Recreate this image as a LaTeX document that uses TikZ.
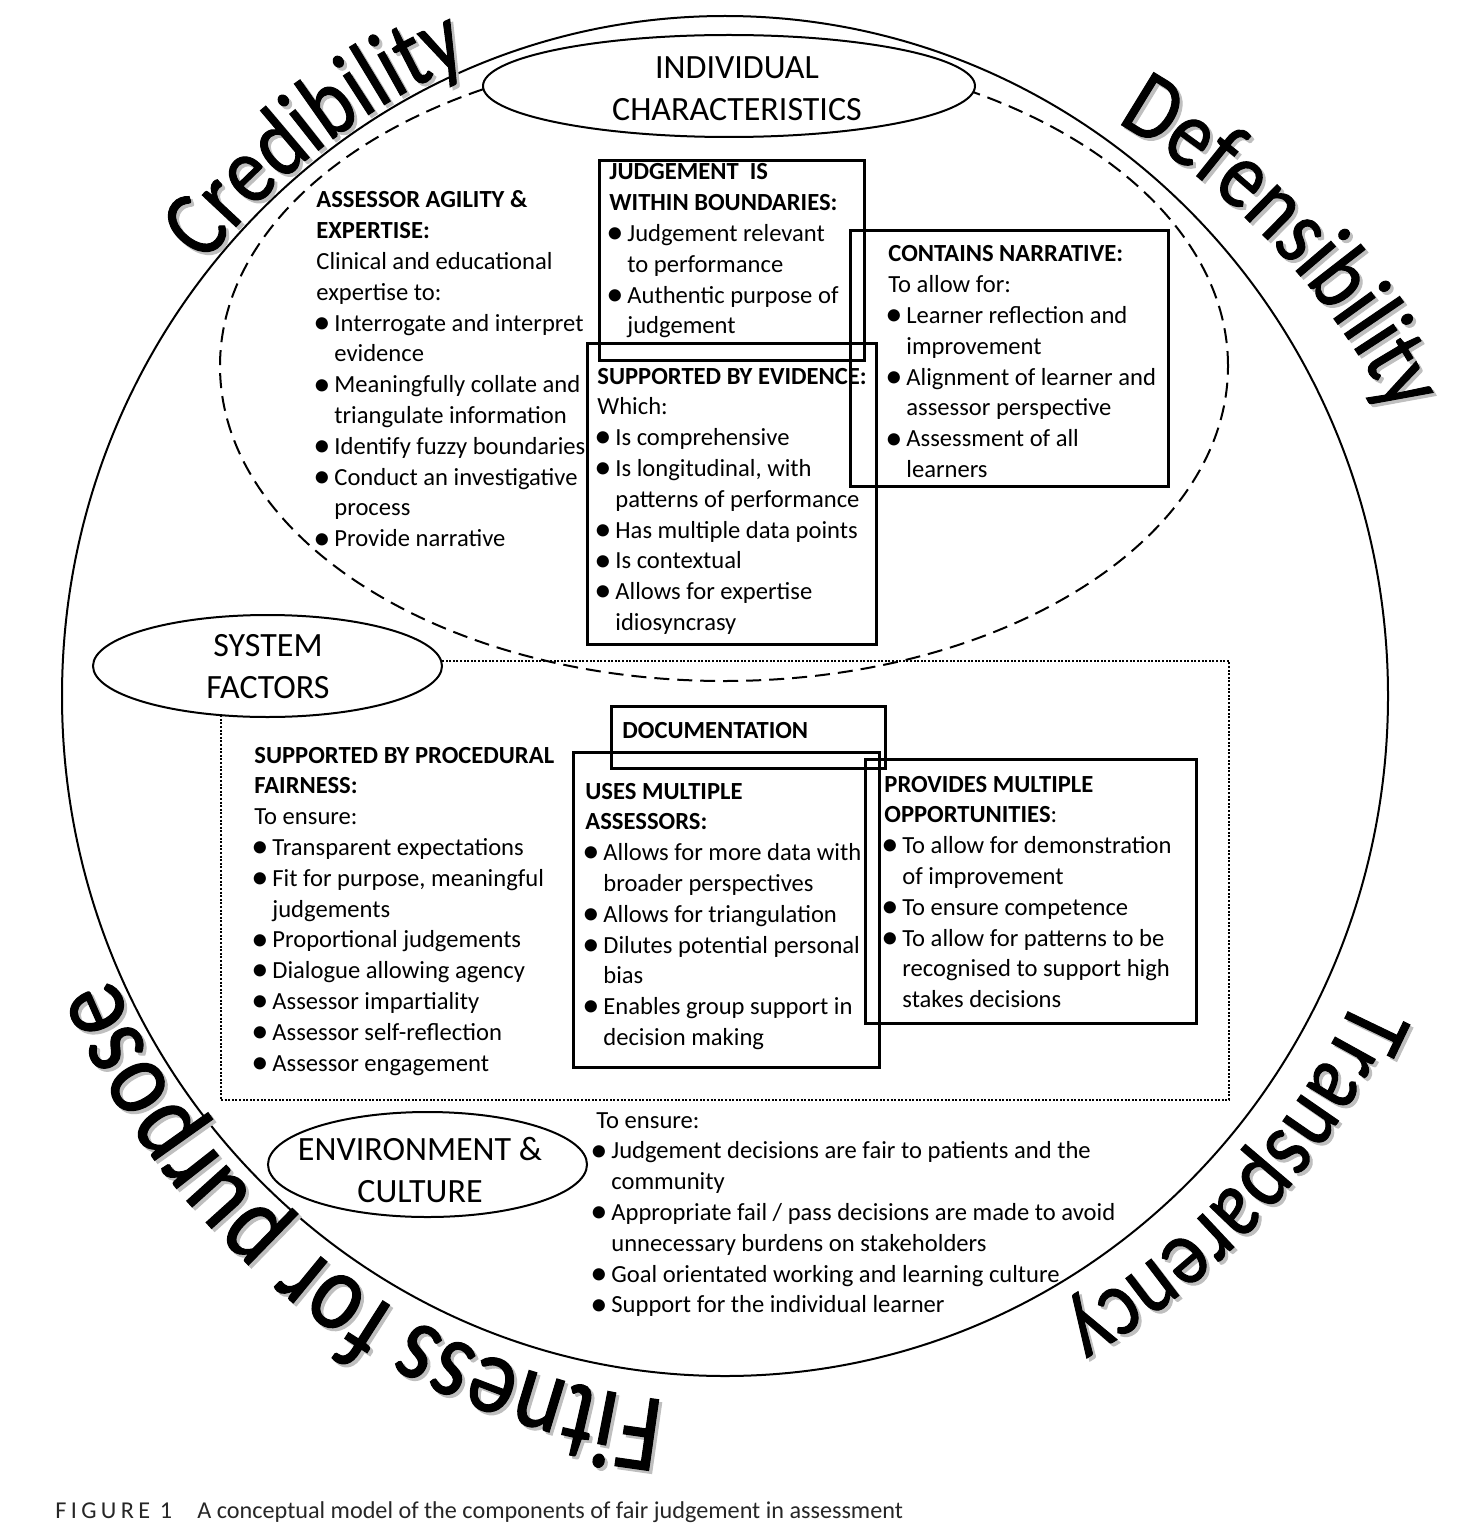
\documentclass[tikz,border=0pt]{standalone}
\usepackage{fontspec}
\setmainfont{Carlito}
\newfontfamily\archfont[FakeStretch=0.84,FakeBold=1]{Carlito}
\usetikzlibrary{shapes.geometric,decorations.text}

\newcommand\bu[1]{\makebox[9pt][l]{\makebox[5.5pt][c]{\raisebox{-1.1pt}{\scalebox{1.4}{\textbullet}}}}#1}
\newcommand\co[1]{\hspace*{9pt}#1}
\newcommand\blk[1]{\begin{tabular}[t]{@{}l@{}}#1\end{tabular}}
\newcommand\clk[1]{\begin{tabular}[t]{@{}c@{}}#1\end{tabular}}
\newcommand\wfa{\archfont\fontsize{48.5}{49}\selectfont}
\newcommand\wfb{\archfont\fontsize{48}{48}\selectfont}
\newcommand\wfc{\archfont\fontsize{55.7}{56}\selectfont}

\tikzset{
  txt/.style={inner sep=0pt, anchor=base west, font=\fontsize{12.3}{15.4}\selectfont},
  lab/.style={inner sep=0pt, anchor=base, font=\fontsize{17}{21}\selectfont},
  capt/.style={inner sep=0pt, anchor=base west, font=\fontsize{12.1}{14}\selectfont, text=black!85},
  box/.style={draw, line width=1.4pt, inner sep=0pt, anchor=north west},
  oval/.style={draw, ellipse, line width=1pt, fill=white, inner sep=0pt},
  ring/.style={draw, ellipse, line width=1pt, inner sep=0pt},
  dashring/.style={draw, ellipse, line width=1pt, inner sep=0pt, dash pattern=on 7.5pt off 4pt},
  dotbox/.style={draw, line width=1pt, inner sep=0pt, anchor=north west, dash pattern=on 1pt off 0.8pt},
}

\begin{document}
\begin{tikzpicture}[x=0.5pt, y=0.5pt]
\useasboundingbox[fill=white] (0,0) rectangle (1480,-1530);

% outer circle and frames
\node[ring, minimum width=663pt, minimum height=680pt] (outer) at (725,-696) {};
\node[dashring, minimum width=504pt, minimum height=315pt] (indiv) at (724,-366) {};
\node[dotbox, minimum width=504pt, minimum height=219.5pt] (system) at (220,-660) {};

% ovals
\node[oval, minimum width=246pt, minimum height=51pt] (icoval) at (729,-86) {};
\node[oval, minimum width=174.5pt, minimum height=51pt] (sfoval) at (267.5,-666) {};
\node[oval, minimum width=159.5pt, minimum height=52.5pt] (ecoval) at (427.5,-1164.5) {};

\node[lab] (ictext) at (737,-79) {\clk{INDIVIDUAL\\CHARACTERISTICS}};
\node[lab] (sftext) at (268,-656) {\clk{SYSTEM\\FACTORS}};
\node[lab] (ectext) at (420,-1160) {\clk{ENVIRONMENT \&\\CULTURE}};

% boxes
\node[box, minimum width=132.5pt, minimum height=100pt] (judgebox) at (598,-159) {};
\node[box, minimum width=159pt, minimum height=128pt] (narrbox) at (849,-229) {};
\node[box, minimum width=144.5pt, minimum height=150.5pt] (evidbox) at (586,-342) {};
\node[box, minimum width=137pt, minimum height=31pt] (docbox) at (610,-705) {};
\node[box, minimum width=153pt, minimum height=157.5pt] (assessbox) at (572,-751) {};
\node[box, minimum width=165.5pt, minimum height=132pt] (oppbox) at (864,-758) {};

% texts
\node[txt] (agility) at (316,-208) {\blk{\textbf{ASSESSOR AGILITY \&}\\ \textbf{EXPERTISE:}\\ Clinical and educational\\ expertise to:\\ \bu{Interrogate and interpret}\\ \co{evidence}\\ \bu{Meaningfully collate and}\\ \co{triangulate information}\\ \bu{Identify fuzzy boundaries}\\ \bu{Conduct an investigative}\\ \co{process}\\ \bu{Provide narrative}}};

\node[txt] (judge) at (609,-180) {\blk{\textbf{JUDGEMENT\ \ IS}\\ \textbf{WITHIN BOUNDARIES:}\\ \bu{Judgement relevant}\\ \co{to performance}\\ \bu{Authentic purpose of}\\ \co{judgement}}};

\node[txt] (narr) at (888,-262) {\blk{\textbf{CONTAINS NARRATIVE:}\\ To allow for:\\ \bu{Learner reflection and}\\ \co{improvement}\\ \bu{Alignment of learner and}\\ \co{assessor perspective}\\ \bu{Assessment of all}\\ \co{learners}}};

\node[txt] (evid) at (597,-384) {\blk{\textbf{SUPPORTED BY EVIDENCE:}\\ Which:\\ \bu{Is comprehensive}\\ \bu{Is longitudinal, with}\\ \co{patterns of performance}\\ \bu{Has multiple data points}\\ \bu{Is contextual}\\ \bu{Allows for expertise}\\ \co{idiosyncrasy}}};

\node[txt] (proc) at (254,-763) {\blk{\textbf{SUPPORTED BY PROCEDURAL}\\ \textbf{FAIRNESS:}\\ To ensure:\\ \bu{Transparent expectations}\\ \bu{Fit for purpose, meaningful}\\ \co{judgements}\\ \bu{Proportional judgements}\\ \bu{Dialogue allowing agency}\\ \bu{Assessor impartiality}\\ \bu{Assessor self-reflection}\\ \bu{Assessor engagement}}};

\node[txt] (doc) at (622,-738) {\textbf{DOCUMENTATION}};

\node[txt] (assess) at (585,-799) {\blk{\textbf{USES MULTIPLE}\\ \textbf{ASSESSORS:}\\ \bu{Allows for more data with}\\ \co{broader perspectives}\\ \bu{Allows for triangulation}\\ \bu{Dilutes potential personal}\\ \co{bias}\\ \bu{Enables group support in}\\ \co{decision making}}};

\node[txt] (opp) at (884,-792) {\blk{\textbf{PROVIDES MULTIPLE}\\ \textbf{OPPORTUNITIES}:\\ \bu{To allow for demonstration}\\ \co{of improvement}\\ \bu{To ensure competence}\\ \bu{To allow for patterns to be}\\ \co{recognised to support high}\\ \co{stakes decisions}}};

\node[txt] (env) at (593,-1128) {\blk{\hspace*{1.5pt}To ensure:\\ \bu{Judgement decisions are fair to patients and the}\\ \co{community}\\ \bu{Appropriate fail / pass decisions are made to avoid}\\ \co{unnecessary burdens on stakeholders}\\ \bu{Goal orientated working and learning culture}\\ \bu{Support for the individual learner}}};

% caption
\node[capt] (figlabel) at (55,-1518) {\addfontfeature{LetterSpace=18}FIGURE 1};
\node[capt] (figtext) at (197,-1518) {A conceptual model of the components of fair judgement in assessment};

% curved words: shadows
\begin{scope}[shift={(3,-3)}]
\path[decorate, decoration={text along path, text={|\wfa\color{black!25}|Credibility}}]
  plot[domain=141:95, samples=80] ({725+663*1.01*cos(\x)},{-696+680*1.01*sin(\x)});
\path[decorate, decoration={text along path, text={|\wfb\color{black!25}|Defensibility}}]
  plot[domain=55:0, samples=80] ({725+663*(1.03+(55-\x)*0.0018)*cos(\x)},{-696+680*(1.03+(55-\x)*0.0018)*sin(\x)});
\path[decorate, decoration={text along path, text={|\wfb\color{black!25}|Transparency}}]
  plot[domain=-25:-90, samples=80] ({725+663*1.048*cos(\x)},{-696+680*1.048*sin(\x)});
\path[decorate, decoration={text along path, text={|\wfc\color{black!25}|Fitness for purpose}}]
  plot[domain=265:170, samples=100] ({725+663*(1.012+(\x-204)*0.00046)*cos(\x)},{-696+680*(1.012+(\x-204)*0.00046)*sin(\x)});
\end{scope}
% curved words
\path[decorate, decoration={text along path, text={|\wfa|Credibility}}]
  plot[domain=141:95, samples=80] ({725+663*1.01*cos(\x)},{-696+680*1.01*sin(\x)});
\path[decorate, decoration={text along path, text={|\wfb|Defensibility}}]
  plot[domain=55:0, samples=80] ({725+663*(1.03+(55-\x)*0.0018)*cos(\x)},{-696+680*(1.03+(55-\x)*0.0018)*sin(\x)});
\path[decorate, decoration={text along path, text={|\wfb|Transparency}}]
  plot[domain=-25:-90, samples=80] ({725+663*1.048*cos(\x)},{-696+680*1.048*sin(\x)});
\path[decorate, decoration={text along path, text={|\wfc|Fitness for purpose}}]
  plot[domain=265:170, samples=100] ({725+663*(1.012+(\x-204)*0.00046)*cos(\x)},{-696+680*(1.012+(\x-204)*0.00046)*sin(\x)});
\end{tikzpicture}
\end{document}
